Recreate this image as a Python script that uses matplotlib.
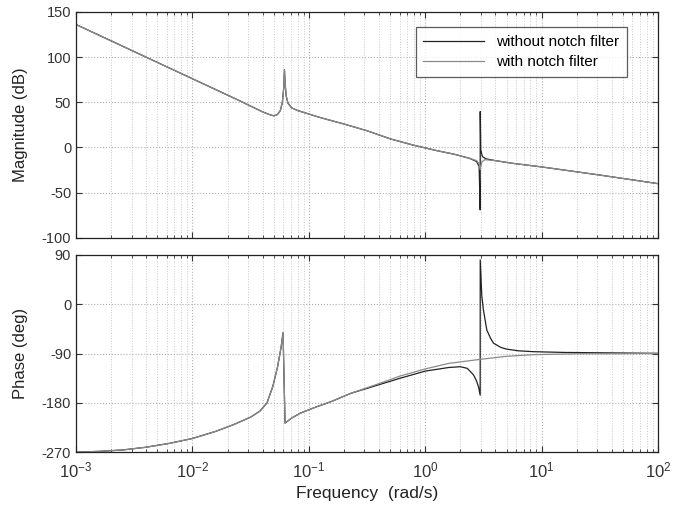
import numpy as np
import matplotlib
matplotlib.use("Agg")
import matplotlib.pyplot as plt
from matplotlib.ticker import LogLocator, NullFormatter, FixedLocator

plt.rcParams['font.family'] = ['Liberation Sans', 'DejaVu Sans']
plt.rcParams['axes.unicode_minus'] = False

# ---- Magnitude data (log10 frequency, dB) ----
mag_nofilt_logf = [-3.0, -2.5, -2.0, -1.6, -1.4, -1.33, -1.30, -1.27, -1.245, -1.228,
                   -1.216, -1.21, -1.204, -1.195, -1.18, -1.15, -1.1, -0.9, -0.7, -0.5,
                   -0.3, -0.1, 0.1, 0.25, 0.38, 0.44, 0.462, 0.471, 0.4715, 0.476,
                   0.49, 0.52, 0.6, 0.75, 1.0, 1.5, 2.0]
mag_nofilt_db = [136, 106, 76, 52, 39.5, 36, 35, 36.5, 41, 50,
                 66, 86, 70, 57, 49, 44, 41, 33, 26, 18.5,
                 9.5, 2.5, -3.5, -7.5, -12, -15.5, -21, -69, 39.7, -2.6,
                 -10, -12.5, -14.5, -17.5, -21.5, -30.5, -40]

mag_filt_logf = [-3.0, -2.5, -2.0, -1.6, -1.4, -1.33, -1.30, -1.27, -1.245, -1.228,
                 -1.216, -1.21, -1.204, -1.195, -1.18, -1.15, -1.1, -0.9, -0.7, -0.5,
                 -0.3, -0.1, 0.1, 0.25, 0.38, 0.44, 0.462, 0.471, 0.485, 0.51,
                 0.6, 0.75, 1.0, 1.5, 2.0]
mag_filt_db = [136, 106, 76, 52, 39.5, 36, 35, 36.5, 41, 50,
               66, 86, 70, 57, 49, 44, 41, 33, 26, 18.5,
               9.5, 2.5, -3.5, -7.5, -12, -14.5, -18, -24.5, -16, -13.5,
               -14.5, -17.5, -21.5, -30.5, -40]

# ---- Phase data (log10 frequency, deg) ----
ph_nofilt_logf = [-3.0, -2.8, -2.6, -2.4, -2.2, -2.0, -1.8, -1.65, -1.5, -1.42,
                  -1.36, -1.31, -1.27, -1.24, -1.222, -1.205, -1.15, -1.076, -0.932,
                  -0.8, -0.646, -0.4, -0.216, 0.0, 0.2, 0.3, 0.36, 0.414, 0.44,
                  0.457, 0.471, 0.4715, 0.485, 0.499, 0.528, 0.56, 0.585, 0.65, 0.7,
                  0.8, 0.929, 1.2, 2.0]
ph_nofilt_deg = [-270, -268.5, -266, -261, -254, -245, -232, -220, -206, -195,
                 -180, -150, -115, -80, -52, -217, -208, -199, -187,
                 -177, -163, -147, -135, -122, -115.5, -114, -117, -129, -140,
                 -151, -166, 81, 15, -10.5, -47, -62, -71, -79, -82,
                 -85, -86.6, -88, -89.6]

ph_filt_logf = [-3.0, -2.8, -2.6, -2.4, -2.2, -2.0, -1.8, -1.65, -1.5, -1.42,
                -1.36, -1.31, -1.27, -1.24, -1.222, -1.205, -1.15, -1.076, -0.932,
                -0.8, -0.646, -0.4, -0.216, 0.0, 0.2, 0.471, 0.7, 0.929, 1.3, 2.0]
ph_filt_deg = [-270, -268.5, -266, -261, -254, -245, -232, -220, -206, -195,
               -180, -150, -115, -80, -52, -217, -208, -199, -187,
               -177, -163, -145, -131, -118, -108, -100.6, -95, -92, -90.5, -90]

mag_ticks = [150, 100, 50, 0, -50, -100]
ph_ticks = [90, 0, -90, -180, -270]

fig = plt.figure(figsize=(6.73, 5.15), dpi=100)
ax1 = fig.add_axes([0.113, 0.538, 0.865, 0.439])
ax2 = fig.add_axes([0.113, 0.122, 0.865, 0.383])

c_no = '#222222'
c_f = '#8a8a8a'

ax1.plot(10 ** np.array(mag_nofilt_logf), mag_nofilt_db, color=c_no, lw=0.9,
         label='without notch filter')
ax1.plot(10 ** np.array(mag_filt_logf), mag_filt_db, color=c_f, lw=0.9,
         label='with notch filter')
ax2.plot(10 ** np.array(ph_nofilt_logf), ph_nofilt_deg, color=c_no, lw=0.9)
ax2.plot(10 ** np.array(ph_filt_logf), ph_filt_deg, color=c_f, lw=0.9)

for ax in (ax1, ax2):
    ax.set_xscale('log')
    ax.set_xlim(1e-3, 1e2)
    ax.xaxis.set_major_locator(LogLocator(base=10, numticks=10))
    ax.xaxis.set_minor_locator(LogLocator(base=10, subs=np.arange(2, 10), numticks=20))
    ax.xaxis.set_minor_formatter(NullFormatter())
    ax.grid(True, which='major', linestyle=':', color='#b0b0b0', lw=0.8)
    ax.grid(True, which='minor', axis='x', linestyle=':', color='#c8c8c8', lw=0.7)
    ax.tick_params(which='both', direction='in', top=True, right=True, labelsize=10.5,
                   colors='#333333')
    ax.tick_params(which='major', length=4)
    ax.tick_params(which='minor', length=2)
    for s in ax.spines.values():
        s.set_color('#222222')
        s.set_linewidth(0.9)

ax1.set_ylim(-100, 150)
ax1.yaxis.set_major_locator(FixedLocator(mag_ticks))
ax1.set_xticklabels([])
ax1.set_ylabel('Magnitude (dB)', fontsize=12, color='#222222')

ax2.set_ylim(-270, 90)
ax2.yaxis.set_major_locator(FixedLocator(ph_ticks))
ax2.set_ylabel('Phase (deg)', fontsize=12, color='#222222')
ax2.set_xlabel('Frequency  (rad/s)', fontsize=12.5, color='#222222')
ax2.tick_params(axis='x', which='major', labelsize=12, pad=6)

leg = ax1.legend(loc='upper right', bbox_to_anchor=(0.96, 0.965), fontsize=11,
                 frameon=True, fancybox=False, edgecolor='#333333', handlelength=4.0,
                 borderpad=0.5, labelspacing=0.4)
leg.get_frame().set_linewidth(0.9)

ax1.yaxis.set_label_coords(-0.082, 0.5)
ax2.yaxis.set_label_coords(-0.082, 0.5)

fig.savefig('out.png', dpi=100)
